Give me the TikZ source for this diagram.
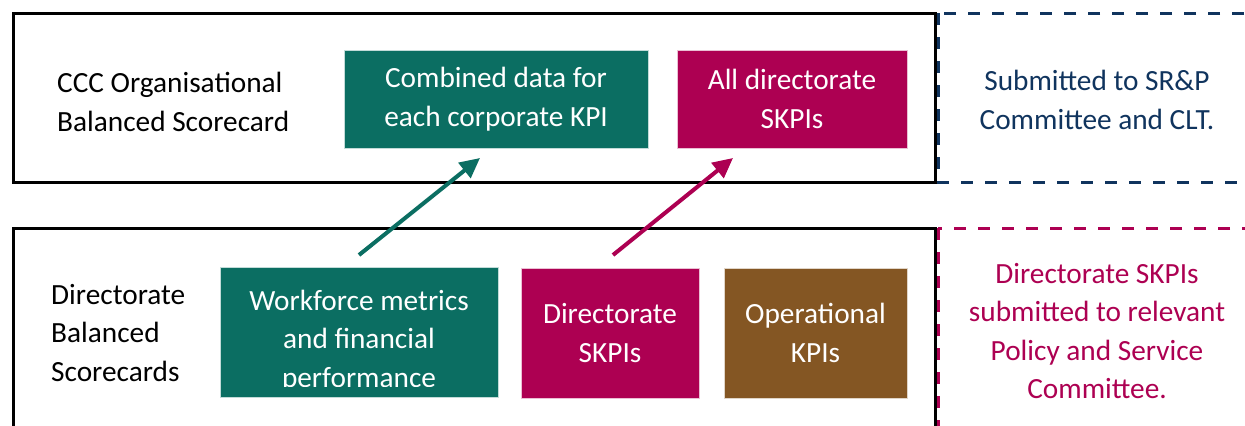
\documentclass[tikz,border=0pt]{standalone}
\usepackage{fontspec}
\setmainfont{Carlito}
\usetikzlibrary{arrows.meta}
\definecolor{kpiteal}{RGB}{11,110,98}
\definecolor{kpipink}{RGB}{173,0,82}
\definecolor{kpibrown}{RGB}{132,86,35}
\definecolor{kpinavy}{RGB}{16,52,94}

\begin{document}
\begin{tikzpicture}[x=1bp, y=-1bp, every node/.style={font=\fontsize{29.3bp}{38.5bp}\selectfont, align=center, inner sep=0pt},
  frame/.style={draw=black, line width=3bp},
  note/.style={line width=3bp, dash pattern=on 12bp off 12bp},
  kpibox/.style={fill=#1, text=white, draw=white!75!#1, line width=0.6bp},
  uparrow/.style={line width=4bp, -{Triangle[length=20bp, width=19bp]}}]
  \clip (0,0) rectangle (1245,425);
  \fill[white] (0,0) rectangle (1245,425);
  % dashed notes on the right
  \draw[note, draw=kpinavy] (938,13) rectangle (1270,182);
  \draw[note, draw=kpipink] (938,228) rectangle (1270,450);
  % scorecard frames
  \draw[frame] (13,13) rectangle (935,182);
  \draw[frame] (13,228) rectangle (935,450);
  \node[anchor=west, align=left] (ccc) at (57,102) {CCC Organisational\\Balanced Scorecard};
  \node[anchor=west, align=left] (dbs) at (51,333) {Directorate\\Balanced\\Scorecards};
  % top row
  \node[kpibox=kpiteal, minimum width=304bp, minimum height=98bp] (cd) at (496,99) {Combined data for\\each corporate KPI};
  \node[kpibox=kpipink, minimum width=230bp, minimum height=98bp] (ad) at (792,99) {All directorate\\SKPIs};
  % bottom row
  \node[kpibox=kpiteal, minimum width=278bp, minimum height=130bp] (wf) at (359,332) {};
  \begin{scope}
    \clip (220,267) rectangle (498,386);
    \node[text=white] (wftext) at (359,341) {Workforce metrics\\and financial\\performance};
  \end{scope}
  \node[kpibox=kpipink, minimum width=178bp, minimum height=130bp] (ds) at (610,333) {Directorate\\SKPIs};
  \node[kpibox=kpibrown, minimum width=183bp, minimum height=130bp] (op) at (815.5,333) {Operational\\KPIs};
  % notes
  \node[text=kpinavy] (srp) at (1097,100) {Submitted to SR\&P\\Committee and CLT.};
  \node[text=kpipink] (psc) at (1097,331) {Directorate SKPIs\\submitted to relevant\\Policy and Service\\Committee.};
  % arrows up
  \coordinate (wfout) at (359,255);
  \coordinate (cdin) at (480,158);
  \coordinate (dsout) at (613,255);
  \coordinate (adin) at (733,158);
  \draw[uparrow, kpiteal] (wfout) -- (cdin);
  \draw[uparrow, kpipink] (dsout) -- (adin);
\end{tikzpicture}
\end{document}
